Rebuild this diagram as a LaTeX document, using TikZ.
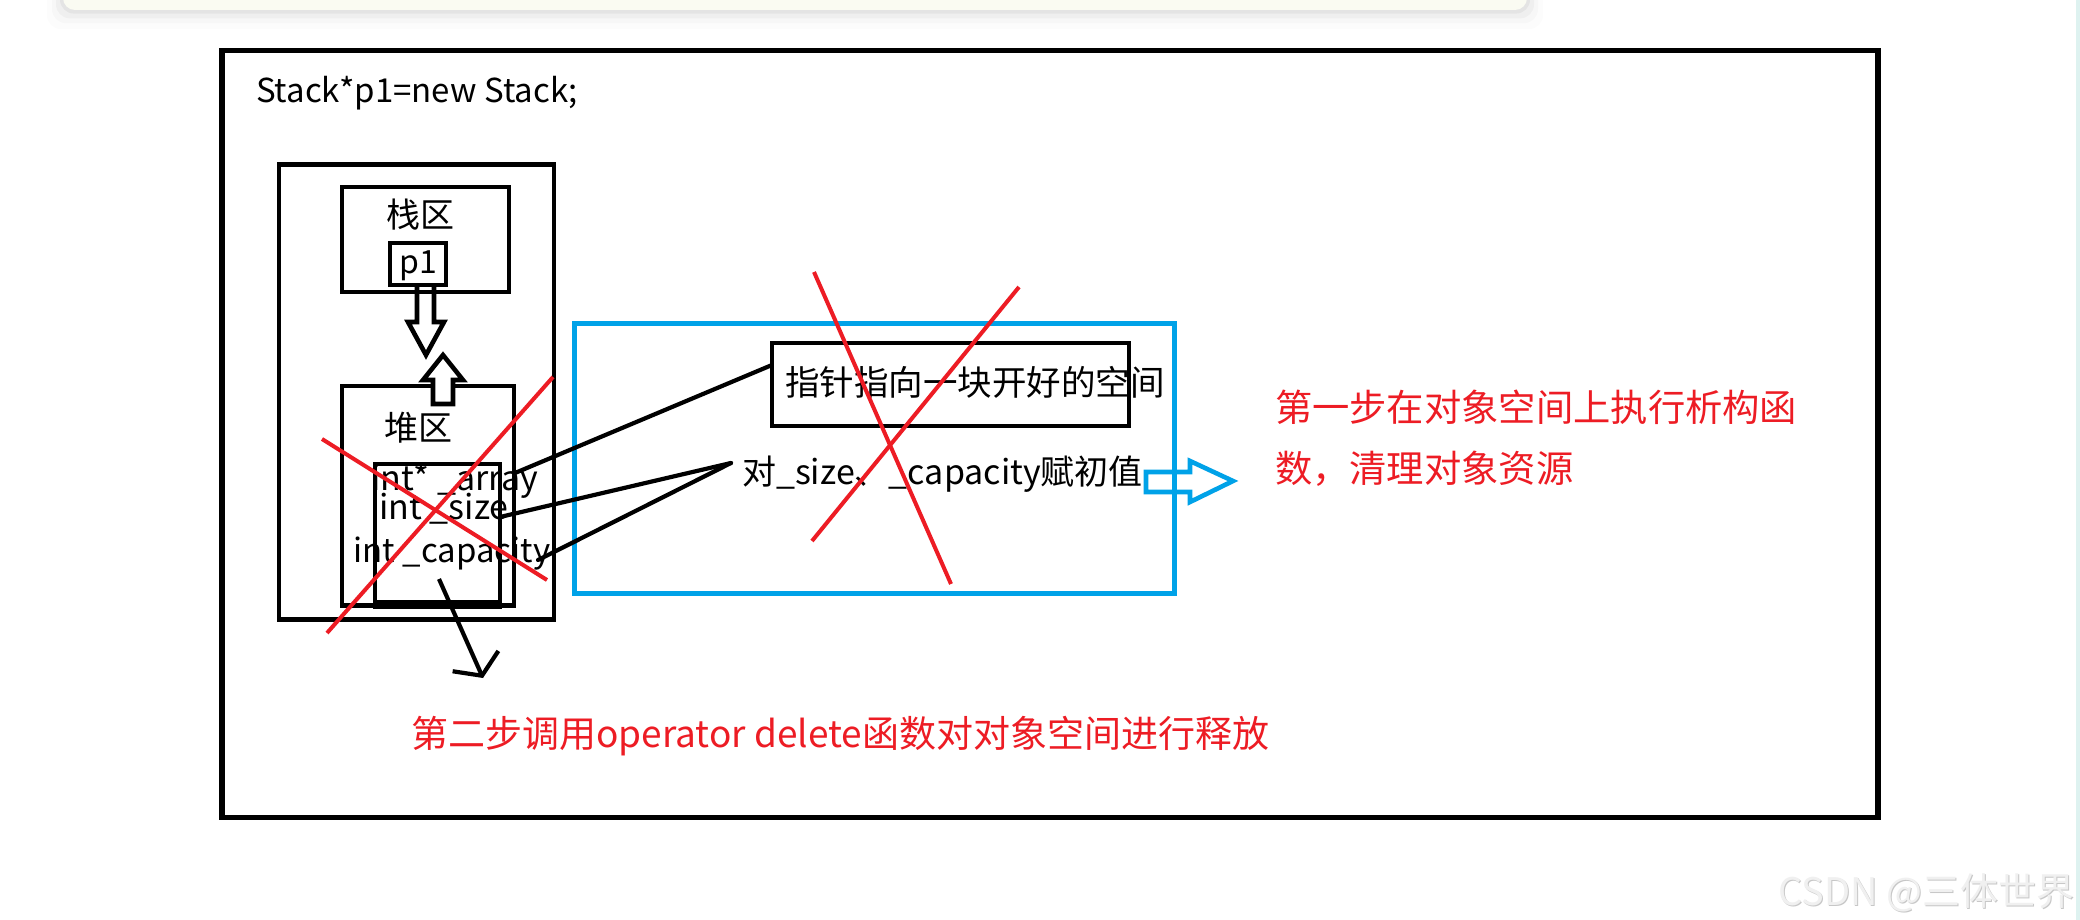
\documentclass[tikz,border=0pt]{standalone}
\usepackage{fontspec}
\setmainfont{Noto Sans CJK SC}
\usetikzlibrary{arrows.meta,calc}
\definecolor{pblue}{RGB}{0,162,232}
\definecolor{pred}{RGB}{237,28,36}
\definecolor{cardfill}{RGB}{250,251,242}
\definecolor{edgecyan}{RGB}{222,242,240}
\begin{document}
\begin{tikzpicture}[x=1pt,y=-1pt,
  box/.style={draw=black,line width=4.6pt,inner sep=0pt,outer sep=0pt,anchor=north west},
  lbl/.style={inner sep=0pt,outer sep=0pt,font=\fontsize{34}{40}\selectfont},
  redlbl/.style={inner sep=0pt,outer sep=0pt,text=pred,font=\fontsize{37.3}{44}\selectfont},
  cross/.style={draw=pred,line width=4pt},
  link/.style={draw=black,line width=4.2pt,line cap=round},
  hollow/.style={draw=black,line width=4.6pt,line join=miter}
]
\useasboundingbox (0,0) rectangle (2080,920);
\fill[white] (0,0) rectangle (2080,920);
% top card with soft shadow
\foreach \i/\o in {16/0.012, 11/0.02, 7/0.03, 3/0.045}{
  \fill[black,opacity=\o,rounded corners=14pt] (63-\i,-40) rectangle (1527+\i,10+\i*1.2);
}
\fill[cardfill,rounded corners=12pt] (63,-40) rectangle (1527,10);
\fill[edgecyan] (2076,0) rectangle (2080,920);

% outer frame
\node[box,line width=5.6pt,minimum width=1656pt,minimum height=767pt] (frame) at (222,50.5) {};
\node[lbl,anchor=west,font=\fontsize{33}{40}\selectfont] (code) at (256,93) {Stack*p1=new Stack;};

% memory
\node[box,minimum width=275pt,minimum height=455pt] (mem) at (279,164.5) {};
\node[box,minimum width=167pt,minimum height=105pt] (stack) at (342,187) {};
\node[lbl] (stacklbl) at (420,215) {栈区};
\draw[hollow] (417,285) -- (417,322) -- (408,322) -- (426,355) -- (444,322) -- (434,322) -- (434,285);
\node[box,minimum width=56pt,minimum height=42pt] (p1box) at (390,243) {};
\node[lbl,font=\fontsize{32}{38}\selectfont] (p1) at (418,266) {p1};
\node[box,minimum width=172pt,minimum height=219.5pt] (heap) at (342,386) {};
\draw[hollow,fill=white] (433,404) -- (433,380) -- (423,380) -- (443,355) -- (463,380) -- (453,380) -- (453,404) -- cycle;
\node[lbl] (heaplbl) at (418,428) {堆区};
\node[lbl,anchor=base west] (arr) at (371,490) {int* \_array};
\node[lbl,anchor=base] (size) at (444,519) {int \_size};
\node[lbl,anchor=base,font=\fontsize{33}{40}\selectfont] (cap) at (452,562) {int \_capacity};
\node[box,minimum width=125pt,minimum height=138pt] (inner) at (375,464) {};
\draw[line width=9pt] ($(inner.south west)+(-2,2.5)$) -- ($(inner.south east)+(2,2.5)$);

% blue region
\node[box,draw=pblue,line width=5pt,minimum width=600pt,minimum height=270pt] (blue) at (574,323) {};
\node[box,minimum width=357pt,minimum height=83pt] (ptr) at (772,343) {};
\node[lbl,anchor=west,font=\fontsize{34.5}{40}\selectfont] (ptrlbl) at (785,382) {指针指向一块开好的空间};
\node[lbl,anchor=west] (init) at (742,474) {对\_size、\_capacity赋初值};

% connectors
\coordinate (arrEnd) at (515,473);
\coordinate (sizeEnd) at (500,517);
\coordinate (capEnd) at (538,560);
\coordinate (initIn) at (731,463);
\draw[link] (arrEnd) -- ($(ptr.north west)!0.265!(ptr.south west)$);
\draw[link] (sizeEnd) -- (initIn);
\draw[link] (capEnd) -- (initIn);

% release arrow
\coordinate (dstart) at (439,579);
\coordinate (dtip) at (483,678);
\draw[black,line width=4.2pt,-{Straight Barb[length=16pt,width=50pt]}] (dstart) -- (dtip);

% blue hollow arrow
\draw[pblue,line width=4.6pt,line join=miter] (1146,472) -- (1190,472) -- (1190,461) -- (1233,481) -- (1190,502) -- (1190,492) -- (1146,492) -- cycle;

% red crosses
\coordinate (xa1) at (322,439); \coordinate (xa2) at (547,580);
\coordinate (xb1) at (327,633); \coordinate (xb2) at (553,377);
\coordinate (ya1) at (814,272); \coordinate (ya2) at (951,584);
\coordinate (yb1) at (1019,287); \coordinate (yb2) at (812,541);
\draw[cross] (xa1) -- (xa2);
\draw[cross] (xb1) -- (xb2);
\draw[cross] (ya1) -- (ya2);
\draw[cross] (yb1) -- (yb2);

% red notes
\node[redlbl,anchor=west] (step1a) at (1275,407) {第一步在对象空间上执行析构函};
\node[redlbl,anchor=west] (step1b) at (1275,469) {数，清理对象资源};
\node[inner sep=0pt,text=pred,anchor=west,font=\fontsize{37}{44}\selectfont] (step2) at (411,736) {第二步调用operator delete函数对对象空间进行释放};

% watermark
\node[inner sep=0pt,anchor=east,font=\fontsize{38}{44}\selectfont,text=black!22] (wmshadow) at (2075.5,893.5) {CSDN @三体世界};
\node[inner sep=0pt,anchor=east,font=\fontsize{38}{44}\selectfont,text=black!6] (wm) at (2074.5,892.5) {CSDN @三体世界};
\end{tikzpicture}
\end{document}
